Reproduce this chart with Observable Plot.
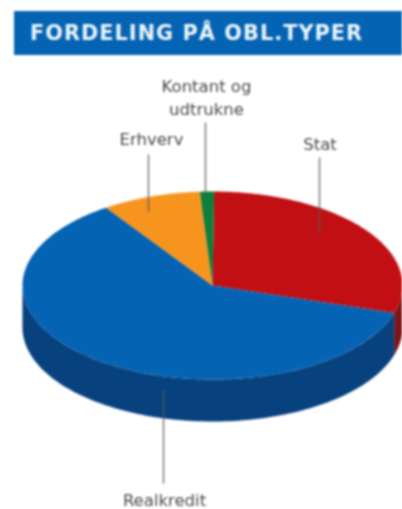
<!DOCTYPE html>
<html lang="da">
<head>
<meta charset="utf-8">
<script src="https://cdn.jsdelivr.net/npm/d3@7"></script>
<script src="https://cdn.jsdelivr.net/npm/@observablehq/plot@0.6"></script>
<style>
  html, body { margin: 0; padding: 0; background: #fff; overflow: hidden; }
  #page { width: 402px; height: 509px; filter: blur(0.8px); }
  #title {
    margin: 11px 0 0 14px; height: 44px; padding-left: 16px;
    background: #0563b3; color: #e8f3fa;
    font: bold 20.5px/45px "DejaVu Sans", sans-serif; letter-spacing: 1.25px; white-space: nowrap; overflow: hidden;
  }
  svg { display: block; }
</style>
</head>
<body>
<div id="page">
  <div id="title">FORDELING PÅ OBL.TYPER</div>
  <div id="chart"></div>
</div>
<script>
// Data: share of the pie, clockwise from about 12 o'clock
const categories = ["Stat", "Realkredit", "Erhverv", "Kontant og\nudtrukne"];
const shares = [29.6, 60.8, 8.4, 1.2];
const topColors = ["#c10f14", "#0563b3", "#f7941d", "#0d7f3a"];
const sideColors = ["#7d1418", "#07427f", "#a8620f", "#084f24"];

// Layout
const rx = 190, ry = 94, depth = 42;
const startAngle = 0.5 * Math.PI / 180;
const W = 402, H = 454, cx = 212, cy = 230;

const arcs = d3.pie().sort(null).startAngle(startAngle).endAngle(startAngle + 2 * Math.PI)(shares);
const pt = (a, dy = 0) => ({x: rx * Math.sin(a), y: -ry * Math.cos(a) + dy});
const steps = (a0, a1) => d3.range(0, 121).map(i => a0 + (a1 - a0) * i / 120);

const faces = [], walls = [];
arcs.forEach((arc, i) => {
  steps(arc.startAngle, arc.endAngle).forEach(a => faces.push({k: i, ...pt(a)}));
  faces.push({k: i, x: 0, y: 0});
  // only the front half of the rim is visible
  const a0 = Math.max(arc.startAngle, Math.PI / 2), a1 = Math.min(arc.endAngle, 3 * Math.PI / 2);
  if (a1 > a0) {
    const rim = steps(a0, a1);
    rim.forEach(a => walls.push({k: i, ...pt(a)}));
    rim.slice().reverse().forEach(a => walls.push({k: i, ...pt(a, depth)}));
  }
});

// Labels and their leader lines, relative to the pie centre
const labels = [
  {name: categories[0], x: 107.5, y: -143, lx: 107, y1: -128, y2: -52},
  {name: categories[1], x: -48, y: 213, lx: -49, y1: 105, y2: 198},
  {name: categories[2], x: -61, y: -148, lx: -64, y1: -131, y2: -74},
  {name: categories[3], x: -6, y: -189, lx: -7, y1: -163, y2: -90}
];

const chart = Plot.plot({
  width: W, height: H,
  margin: 0,
  x: {domain: [-rx, rx], range: [cx - rx, cx + rx], axis: null},
  y: {domain: [-ry, ry], range: [cy - ry, cy + ry], axis: null},
  marks: [
    Plot.line(walls, {x: "x", y: "y", z: "k", fill: d => sideColors[d.k], stroke: null}),
    Plot.line(faces, {x: "x", y: "y", z: "k", fill: d => topColors[d.k], stroke: null}),
    Plot.link(labels, {x1: "lx", x2: "lx", y1: "y1", y2: "y2", stroke: "#5a5a5a", strokeWidth: 1.4, strokeOpacity: 0.85}),
    Plot.text(labels, {x: "x", y: "y", text: "name", fontSize: 16.5, lineHeight: 1.4, fontFamily: "DejaVu Sans", fill: "#4a4a4a"})
  ]
});
document.getElementById("chart").appendChild(chart);
</script>
</body>
</html>
